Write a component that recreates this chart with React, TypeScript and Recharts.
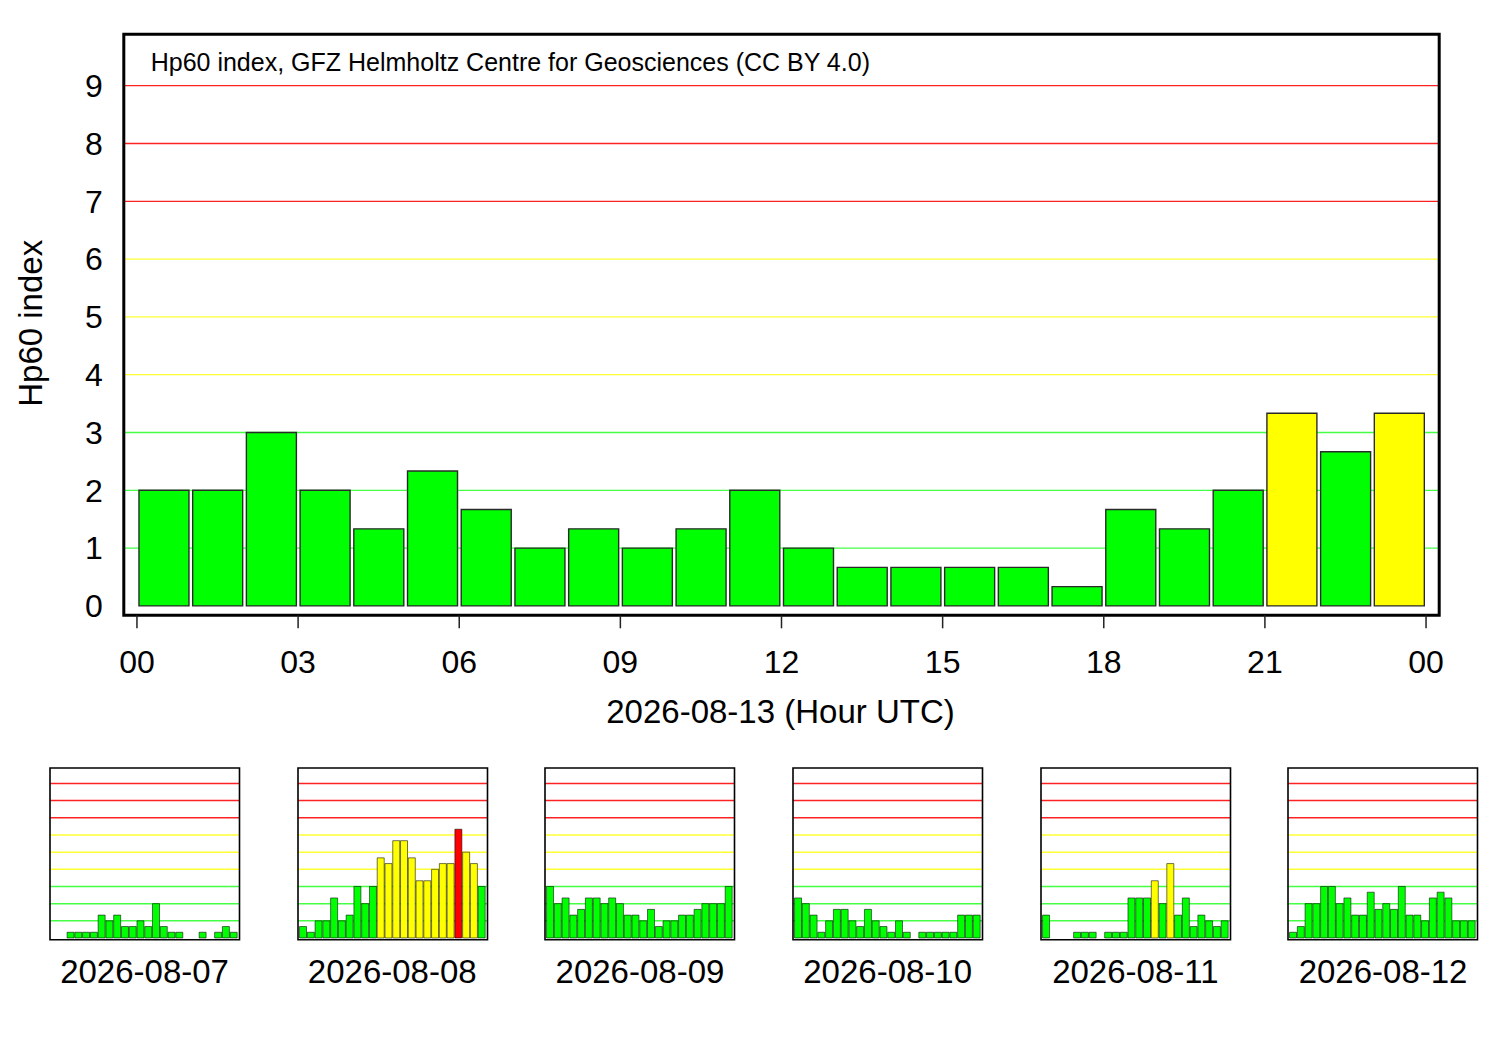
import React from "react";
import { BarChart, Bar, XAxis, YAxis, ReferenceLine, ReferenceArea, Cell } from "recharts";

// ---------- data ----------
const MAIN_TITLE = "Hp60 index, GFZ Helmholtz Centre for Geosciences (CC BY 4.0)";
const MAIN_DATE = "2026-08-13";
const X_AXIS_TITLE = `${MAIN_DATE} (Hour UTC)`;
const Y_AXIS_TITLE = "Hp60 index";

const MAIN_VALUES = [
  2, 2, 3, 2, 1.333, 2.333, 1.667, 1, 1.333, 1, 1.333, 2,
  1, 0.667, 0.667, 0.667, 0.667, 0.333, 1.667, 1.333, 2, 3.333, 2.667, 3.333,
];

const X_TICK_VALUES = [0, 3, 6, 9, 12, 15, 18, 21, 24];
const X_TICK_LABELS = ["00", "03", "06", "09", "12", "15", "18", "21", "00"];
const Y_TICK_VALUES = [0, 1, 2, 3, 4, 5, 6, 7, 8, 9];
const GRID_LEVELS = [1, 2, 3, 4, 5, 6, 7, 8, 9];

const SMALL_DATES = ["2026-08-07", "2026-08-08", "2026-08-09", "2026-08-10", "2026-08-11", "2026-08-12"];
const DAY_0807 = [0, 0, 0.333, 0.333, 0.333, 0.333, 1.333, 1, 1.333, 0.667, 0.667, 1, 0.667, 2, 0.667, 0.333, 0.333, 0, 0, 0.333, 0, 0.333, 0.667, 0.333];
const DAY_0808 = [0.667, 0.333, 1, 1, 2.333, 1, 1.333, 3, 2, 3, 4.667, 4.333, 5.667, 5.667, 4.667, 3.333, 3.333, 4, 4.333, 4.333, 6.333, 5, 4.333, 3];
const DAY_0809 = [3, 2, 2.333, 1.333, 1.667, 2.333, 2.333, 2, 2.333, 2, 1.333, 1.333, 1, 1.667, 0.667, 1, 1, 1.333, 1.333, 1.667, 2, 2, 2, 3];
const DAY_0810 = [2.333, 2, 1.333, 0.333, 1, 1.667, 1.667, 1, 0.667, 1.667, 1, 0.667, 0.333, 1, 0.333, 0, 0.333, 0.333, 0.333, 0.333, 0.333, 1.333, 1.333, 1.333];
const DAY_0811 = [1.333, 0, 0, 0, 0.333, 0.333, 0.333, 0, 0.333, 0.333, 0.333, 2.333, 2.333, 2.333, 3.333, 2, 4.333, 1.333, 2.333, 0.667, 1.333, 1, 0.667, 1];
const DAY_0812 = [0.333, 0.667, 2, 2, 3, 3, 2, 2.333, 1.333, 1.333, 2.667, 1.667, 2, 1.667, 3, 1.333, 1.333, 1, 2.333, 2.667, 2.333, 1, 1, 1];
const SMALL_SERIES = [DAY_0807, DAY_0808, DAY_0809, DAY_0810, DAY_0811, DAY_0812];

// ---------- styles ----------
const FONT = "'Liberation Sans', Arial, Helvetica, sans-serif";
const GREEN = "#00ff00";
const YELLOW = "#ffff00";
const RED = "#ff0000";

const barColor = (v: number) => (v > 6.1 ? RED : v > 3.1 ? YELLOW : GREEN);
const gridColor = (lvl: number) => (lvl >= 7 ? "#ff2222" : lvl >= 4 ? "#ffff33" : "#44ff44");

const MAIN_X_DOMAIN: [number, number] = [-0.245, 24.245];
const MAIN_Y_DOMAIN: [number, number] = [-0.163, 9.891];
const SMALL_X_DOMAIN: [number, number] = [-0.2, 24.2];
const SMALL_Y_DOMAIN: [number, number] = [-0.1, 9.9];

const toRows = (vals: number[]) => vals.map((v, i) => ({ hour: i + 0.5, hp: v }));

function MainChart() {
  const data = toRows(MAIN_VALUES);
  return (
    <div style={{ position: "absolute", left: 0, top: 0 }}>
      <BarChart
        width={1500}
        height={760}
        data={data}
        margin={{ top: 34.2, right: 60.8, left: 43.8, bottom: 94.7 }}
      >
        <XAxis
          dataKey="hour"
          type="number"
          domain={MAIN_X_DOMAIN}
          allowDataOverflow
          ticks={X_TICK_VALUES}
          interval={0}
          tickFormatter={(_v: number, i: number) => X_TICK_LABELS[i]}
          axisLine={false}
          tickLine={{ stroke: "#222", strokeWidth: 1.5 }}
          tickSize={13}
          tickMargin={22}
          height={50}
          tick={{ fill: "#000", fontSize: 32, fontFamily: FONT }}
        />
        <YAxis
          type="number"
          domain={MAIN_Y_DOMAIN}
          allowDataOverflow
          ticks={Y_TICK_VALUES}
          interval={0}
          axisLine={false}
          tickLine={false}
          tickSize={0}
          tickMargin={21}
          width={80}
          tick={{ fill: "#000", fontSize: 32, fontFamily: FONT }}
        />
        {GRID_LEVELS.map((lvl) => (
          <ReferenceLine
            key={lvl}
            y={lvl}
            stroke={gridColor(lvl)}
            strokeWidth={1.3}
            zIndex={-50}
          />
        ))}
        <Bar dataKey="hp" barSize={50} isAnimationActive={false} stroke="#2a2a2a" strokeWidth={1.4}>
          {data.map((d, i) => (
            <Cell key={i} fill={barColor(d.hp)} />
          ))}
        </Bar>
        <ReferenceArea
          x1={MAIN_X_DOMAIN[0]}
          x2={MAIN_X_DOMAIN[1]}
          y1={MAIN_Y_DOMAIN[0]}
          y2={MAIN_Y_DOMAIN[1]}
          fill="none"
          fillOpacity={0}
          stroke="#000"
          strokeWidth={3}
          ifOverflow="visible"
        />
      </BarChart>
    </div>
  );
}

function SmallChart({ values, index }: { values: number[]; index: number }) {
  const data = toRows(values);
  const left = 49.8 + 247.7 * index - 10;
  return (
    <div style={{ position: "absolute", left, top: 758.3 }}>
      <BarChart
        width={250}
        height={200}
        data={data}
        margin={{ top: 10, left: 10, right: 50.5, bottom: 18.3 }}
      >
        <XAxis dataKey="hour" type="number" domain={SMALL_X_DOMAIN} allowDataOverflow hide />
        <YAxis type="number" domain={SMALL_Y_DOMAIN} allowDataOverflow hide />
        {GRID_LEVELS.map((lvl) => (
          <ReferenceLine key={lvl} y={lvl} stroke={gridColor(lvl)} strokeWidth={1.5} zIndex={-50} />
        ))}
        <Bar dataKey="hp" barSize={7.77} isAnimationActive={false} stroke="rgba(0,0,0,0.55)" strokeWidth={1}>
          {data.map((d, i) => (
            <Cell key={i} fill={barColor(d.hp)} />
          ))}
        </Bar>
        <ReferenceArea
          x1={SMALL_X_DOMAIN[0]}
          x2={SMALL_X_DOMAIN[1]}
          y1={SMALL_Y_DOMAIN[0]}
          y2={SMALL_Y_DOMAIN[1]}
          fill="none"
          fillOpacity={0}
          stroke="#000"
          strokeWidth={1.6}
          ifOverflow="visible"
        />
      </BarChart>
    </div>
  );
}

function TextOverlay() {
  return (
    <svg
      width={1500}
      height={1050}
      style={{ position: "absolute", left: 0, top: 0, pointerEvents: "none" }}
      fontFamily={FONT}
    >
      <text x={150.7} y={70.7} fontSize={25} fill="#000">
        {MAIN_TITLE}
      </text>
      <text x={780.5} y={723.3} fontSize={33} fill="#000" textAnchor="middle">
        {X_AXIS_TITLE}
      </text>
      <text transform="translate(41.5,323.3) rotate(-90)" fontSize={33} fill="#000" textAnchor="middle">
        {Y_AXIS_TITLE}
      </text>
      {SMALL_DATES.map((d, i) => (
        <text key={d} x={49.8 + 247.7 * i + 94.75} y={983.3} fontSize={33} fill="#000" textAnchor="middle">
          {d}
        </text>
      ))}
    </svg>
  );
}

export default function App() {
  return (
    <div
      style={{
        position: "absolute",
        left: 0,
        top: 0,
        width: 1500,
        height: 1050,
        background: "#fff",
        fontFamily: FONT,
        overflow: "hidden",
      }}
    >
      <MainChart />
      {SMALL_SERIES.map((vals, i) => (
        <SmallChart key={SMALL_DATES[i]} values={vals} index={i} />
      ))}
      <TextOverlay />
    </div>
  );
}
